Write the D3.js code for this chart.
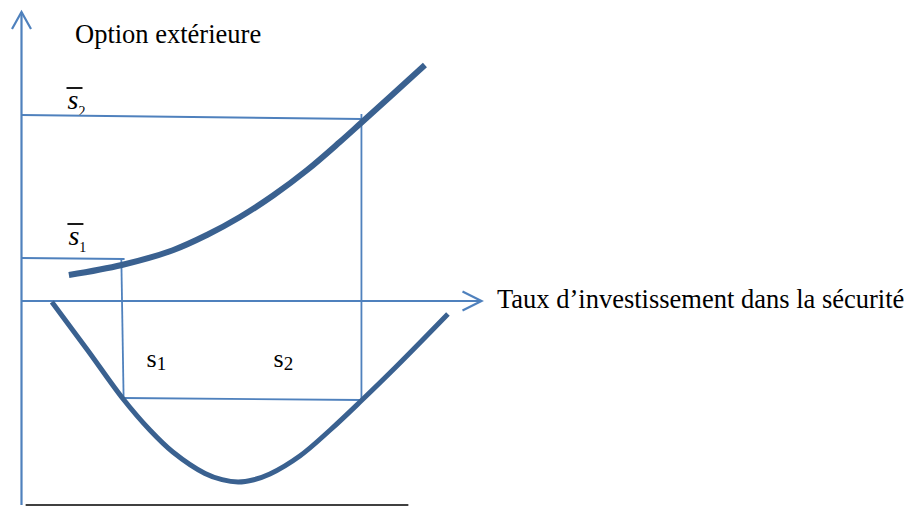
<!DOCTYPE html>
<html lang="fr">
<head>
<meta charset="UTF-8">
<script src="https://d3js.org/d3.v7.min.js"></script>
<style>
  body { margin: 0; background: #fff; }
  text { font-family: "Liberation Serif", "Times New Roman", serif; fill: #000; }
</style>
</head>
<body>
<svg id="chart" width="912" height="506"></svg>
<script>
// courbe du haut : option extérieure
var upperX = [10.3, 21.8, 32.9, 40.3, 47.5, 54.7, 62.1, 69.2, 73.8, 87.7];
var upperY = [13, 18, 25.4, 33, 42, 52.75, 65.5, 79.5, 89, 118];

// courbe du bas (en U)
var lowerX = [6.6, 14.5, 22.1, 27.9, 32.9, 39.9, 43.6, 47.1, 50.5, 54.0, 60.5, 67.1, 73.8, 81.6, 92.7];
var lowerY = [-0.5, -25, -49, -64.5, -75.5, -86.25, -89.35, -90.5, -89.35, -86.5, -77.5, -64.5, -50, -32.5, -6.5];

// lignes de repère [x1, y1, x2, y2]
var guides = [
    [0, 93, 73.9, 91],        // s2 barre
    [73.9, 93.5, 73.9, -50],  // verticale s2
    [0, 21.5, 22.4, 21],      // s1 barre
    [21.7, 21.5, 22.2, -49],  // verticale s1
    [22.2, -48.5, 73.9, -49.5] // horizontale du bas
];

var xAxisEnd = 100, yAxisTop = 144.5, yAxisBottom = -102;
var baseLine = [0.9, 84.1, -102];

var titleY = "Option extérieure";
var titleX = "Taux d\u2019investissement dans la sécurité";
var sbarLabels = [{sub: "2", x: 10, y: 96}, {sub: "1", x: 10.2, y: 28}];
var sLabels = [{sub: "1", x: 27.2, y: -33}, {sub: "2", x: 54.8, y: -33}];

var svg = d3.select("#chart");
var xs = d3.scaleLinear().domain([0, 100]).range([21.5, 481.5]);
var ys = d3.scaleLinear().domain([-100, 140]).range([501, 21]);

var axisColor = "#4f81bd";
var curveColor = "#3a6190";

// ligne noire en bas
svg.append("line")
    .attr("x1", xs(baseLine[0])).attr("x2", xs(baseLine[1]))
    .attr("y1", ys(baseLine[2])).attr("y2", ys(baseLine[2]))
    .attr("stroke", "#000").attr("stroke-width", 1.5);

// textes (sous les lignes)
svg.append("text").attr("x", 75).attr("y", 43)
    .style("font-size", "26.5px").text(titleY);
svg.append("text").attr("x", xs(xAxisEnd) + 15.5).attr("y", ys(0) + 7)
    .style("font-size", "26.5px").text(titleX);

sbarLabels.forEach(function(l) {
    var t = svg.append("text").attr("x", xs(l.x)).attr("y", ys(l.y))
        .style("font-size", "28px");
    t.append("tspan").style("font-style", "italic").text("s");
    t.append("tspan").attr("dy", 7).style("font-size", "14px").text(l.sub);
    svg.append("line")
        .attr("x1", xs(l.x) - 1).attr("x2", xs(l.x) + 15)
        .attr("y1", ys(l.y) - 21).attr("y2", ys(l.y) - 21)
        .attr("stroke", "#000").attr("stroke-width", 1.8);
});

sLabels.forEach(function(l) {
    var t = svg.append("text").attr("x", xs(l.x)).attr("y", ys(l.y))
        .style("font-size", "26px");
    t.append("tspan").text("s");
    t.append("tspan").attr("dy", 3).style("font-size", "19px").text(l.sub);
});

// guides
svg.append("g").selectAll("line")
    .data(guides).enter().append("line")
    .attr("x1", d => xs(d[0])).attr("y1", d => ys(d[1]))
    .attr("x2", d => xs(d[2])).attr("y2", d => ys(d[3]))
    .attr("stroke", axisColor).attr("stroke-width", 1.8);

// axes
var x0 = xs(0), y0 = ys(0);
svg.append("line")
    .attr("x1", x0).attr("x2", x0)
    .attr("y1", ys(yAxisBottom)).attr("y2", ys(yAxisTop))
    .attr("stroke", axisColor).attr("stroke-width", 2.2);
svg.append("path")
    .attr("d", "M" + (x0 - 9.5) + "," + (ys(yAxisTop) + 17) + "L" + x0 + "," + ys(yAxisTop) + "L" + (x0 + 9.5) + "," + (ys(yAxisTop) + 17))
    .attr("fill", "none").attr("stroke", axisColor).attr("stroke-width", 2.2);
svg.append("line")
    .attr("x1", x0).attr("x2", xs(xAxisEnd))
    .attr("y1", y0).attr("y2", y0)
    .attr("stroke", axisColor).attr("stroke-width", 2.2);
svg.append("path")
    .attr("d", "M" + (xs(xAxisEnd) - 19) + "," + (y0 - 9.5) + "L" + xs(xAxisEnd) + "," + y0 + "L" + (xs(xAxisEnd) - 19) + "," + (y0 + 9.5))
    .attr("fill", "none").attr("stroke", axisColor).attr("stroke-width", 2.2);

// courbes
var line = d3.line().x(d => xs(d[0])).y(d => ys(d[1])).curve(d3.curveCatmullRom.alpha(0.5));
svg.append("path")
    .attr("d", line(upperX.map((v, i) => [v, upperY[i]])))
    .attr("fill", "none").attr("stroke", curveColor).attr("stroke-width", 6);
svg.append("path")
    .attr("d", line(lowerX.map((v, i) => [v, lowerY[i]])))
    .attr("fill", "none").attr("stroke", curveColor).attr("stroke-width", 5);
</script>
</body>
</html>
